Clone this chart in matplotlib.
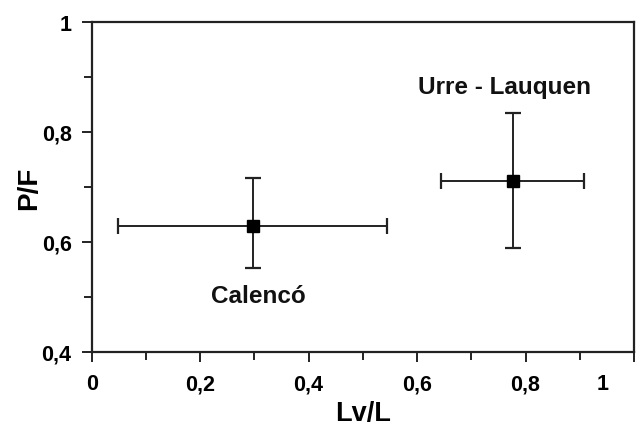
import matplotlib
matplotlib.use('Agg')
import matplotlib.pyplot as plt
import matplotlib.transforms as mtransforms
from matplotlib.ticker import MultipleLocator

# Data
sites = ['Calencó', 'Urre - Lauquen']
lv_l = [0.297, 0.776]          # Lv/L mean
lv_l_err = [0.248, 0.132]      # Lv/L error (symmetric)
p_f = [0.628, 0.711]           # P/F mean
p_f_err_low = [0.076, 0.123]
p_f_err_high = [0.088, 0.124]
label_pos = [(0.307, 0.503), (0.761, 0.882)]

x_ticks = [0, 0.2, 0.4, 0.6, 0.8, 1]
x_ticklabels = ['0', '0,2', '0,4', '0,6', '0,8', '1']
y_ticks = [0.4, 0.6, 0.8, 1]
y_ticklabels = ['0,4', '0,6', '0,8', '1']

plt.rcParams['font.family'] = ['Liberation Sans', 'DejaVu Sans']
plt.rcParams['font.weight'] = 'bold'

fig = plt.figure(figsize=(6.4, 4.27), dpi=100)
ax = fig.add_axes([0.1433, 0.174, 0.8473, 0.772])

ax.errorbar(lv_l, p_f, xerr=lv_l_err, yerr=[p_f_err_low, p_f_err_high],
            fmt='s', color='black', ecolor='#222222', elinewidth=1.4,
            capsize=5.5, capthick=1.6, markersize=9)

for name, (tx, ty) in zip(sites, label_pos):
    ax.text(tx, ty, name, ha='center', va='center', fontsize=17.5,
            fontweight='bold', color='#111111')

ax.set_xlim(0, 1)
ax.set_ylim(0.4, 1)
ax.set_xticks(x_ticks)
ax.set_xticklabels(x_ticklabels)
ax.set_yticks(y_ticks)
ax.set_yticklabels(y_ticklabels)
ax.xaxis.set_minor_locator(MultipleLocator(0.1))
ax.yaxis.set_minor_locator(MultipleLocator(0.1))

ax.tick_params(which='major', direction='out', length=7.5, width=1.4,
               labelsize=15.5, color='#222222')
ax.tick_params(axis='x', which='major', pad=8)
ax.tick_params(axis='y', which='major', pad=7)
ax.tick_params(which='minor', direction='out', length=6, width=1.4,
               color='#222222')
for lab in ax.get_xticklabels() + ax.get_yticklabels():
    lab.set_fontweight('bold')

# the "1" on the x axis sits left of its tick in the original
last = ax.get_xticklabels()[-1]
last.set_transform(last.get_transform() +
                   mtransforms.ScaledTranslation(-31 / 100, 0, fig.dpi_scale_trans))

for sp in ax.spines.values():
    sp.set_linewidth(1.6)
    sp.set_color('#222222')

ax.set_xlabel('Lv/L', fontsize=19.5, fontweight='bold', labelpad=4.5)
ax.set_ylabel('P/F', fontsize=20, fontweight='bold', labelpad=-0.5)

plt.savefig('out.png', dpi=100)
plt.close()
